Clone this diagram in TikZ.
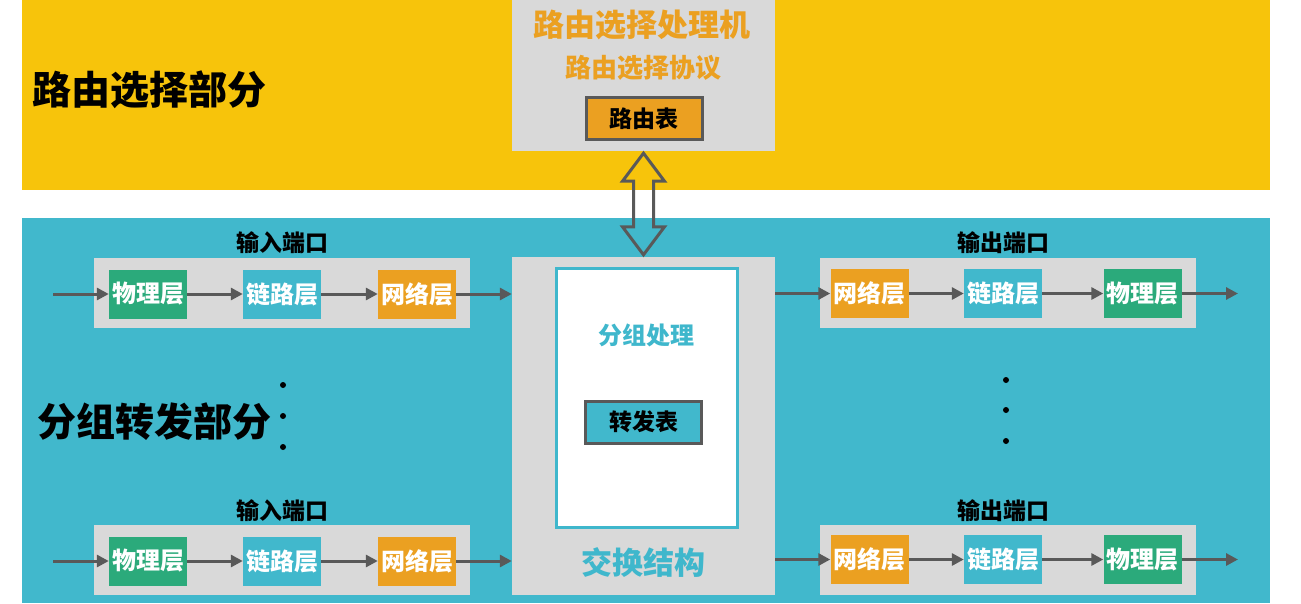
\documentclass[tikz,border=0pt]{standalone}
\usepackage{fontspec}
\setmainfont{Noto Sans CJK SC}
\usetikzlibrary{arrows.meta,calc}
\definecolor{ylw}{HTML}{F7C40B}
\definecolor{tealbg}{HTML}{41B8CC}
\definecolor{boxgray}{HTML}{D9D9D9}
\definecolor{grn}{HTML}{2BAA7B}
\definecolor{org}{HTML}{EBA021}
\definecolor{dgray}{HTML}{595959}
\definecolor{tealtx}{HTML}{3FB7CC}
\tikzset{
  band/.style={fill=#1, draw=none},
  portbox/.style={fill=boxgray, draw=none, minimum width=376pt, minimum height=70pt, inner sep=0pt},
  layer/.style={fill=#1, draw=none, text=white, font=\bfseries\fontsize{24}{26}\selectfont, minimum width=78pt, minimum height=49pt, inner sep=0pt},
  plabel/.style={font=\bfseries\fontsize{23}{25}\selectfont, text=black},
  flow/.style={draw=dgray, line width=3pt, -{Triangle[length=12pt,width=12pt]}},
  tablebox/.style={fill=#1, draw=dgray, line width=3pt, font=\bfseries\fontsize{23}{25}\selectfont, text=black, minimum width=116pt, minimum height=42pt, inner sep=0pt},
  header/.style={font=\bfseries\fontsize{39}{42}\selectfont, text=black},
  dotmark/.style={circle, fill=black, inner sep=0pt, minimum size=6pt},
  glowtext/.style={font=\bfseries\fontsize{#1}{#1}\selectfont},
}
\begin{document}
\begin{tikzpicture}[x=1pt,y=-1pt]
\useasboundingbox (0,0) rectangle (1301,603);
\fill[white] (0,0) rectangle (1301,603);
% bands
\fill[band=ylw] (22,0) rectangle (1270,190);
\fill[band=tealbg] (22,218) rectangle (1270,603);
% headers
\node[header] (hr) at (149,90) {路由选择部分};
\node[header] (hf) at (154,422) {分组转发部分};
% routing processor box
\node[fill=boxgray, minimum width=263pt, minimum height=151pt, inner sep=0pt] (rp) at (643.5,75.5) {};
\node[glowtext=31, text=org] (rpt) at (642,25) {路由选择处理机};
\node[glowtext=26, text=org] (rpp) at (643,68) {路由选择协议};
\node[tablebox=org] (rt) at (644,118.5) {路由表};
% switch fabric box
\node[fill=boxgray, minimum width=263pt, minimum height=338pt, inner sep=0pt] (sw) at (643.5,426) {};
\node[fill=white, draw=tealtx, line width=3pt, minimum width=181pt, minimum height=259pt, inner sep=0pt] (pp) at (647,398) {};
\node[glowtext=24, text=tealtx] (ppt) at (646,335) {分组处理};
\node[tablebox=tealbg] (ft) at (643.5,422) {转发表};
\node[glowtext=31, text=tealtx] (swt) at (643,563) {交换结构};
% double arrow between routing box and switch box
\coordinate (t) at (rp.south);
\coordinate (b) at (sw.north);
\draw[draw=dgray, line width=3pt, line join=miter]
  ($(t)+(0,2)$) -- ($(t)+(21,30)$) -- ($(t)+(10,30)$) -- ($(b)+(10,-30)$) -- ($(b)+(21,-30)$) -- ($(b)+(0,-2)$)
  -- ($(b)+(-21,-30)$) -- ($(b)+(-10,-30)$) -- ($(t)+(-10,30)$) -- ($(t)+(-21,30)$) -- cycle;
% input port top
\node[plabel] (inl1) at (282,243) {输入端口};
\node[portbox] (inb1) at (282,292.5) {};
\node[layer=grn] (ip1) at (148,294) {物理层};
\node[layer=tealbg] (il1) at (282,294) {链路层};
\node[layer=org] (in1) at (417,294) {网络层};
\coordinate (ins1) at (53,294);
\draw[flow] (ins1) -- (ip1.west);
\draw[flow] (ip1) -- (il1);
\draw[flow] (il1) -- (in1);
\draw[flow] (in1.east) -- (in1.east -| sw.west);
% input port bottom
\node[plabel] (inl2) at (282,511) {输入端口};
\node[portbox] (inb2) at (282,560) {};
\node[layer=grn] (ip2) at (148,561) {物理层};
\node[layer=tealbg] (il2) at (282,561) {链路层};
\node[layer=org] (in2) at (417,561) {网络层};
\coordinate (ins2) at (53,561);
\draw[flow] (ins2) -- (ip2.west);
\draw[flow] (ip2) -- (il2);
\draw[flow] (il2) -- (in2);
\draw[flow] (in2.east) -- (in2.east -| sw.west);
% output port top
\node[plabel] (outl1) at (1003,243) {输出端口};
\node[portbox] (outb1) at (1008,293) {};
\node[layer=org] (on1) at (869.5,293.5) {网络层};
\node[layer=tealbg] (ol1) at (1003,293.5) {链路层};
\node[layer=grn] (op1) at (1142.5,293.5) {物理层};
\coordinate (oe1) at (1238,293.5);
\draw[flow] (on1.west -| sw.east) -- (on1.west);
\draw[flow] (on1) -- (ol1);
\draw[flow] (ol1) -- (op1);
\draw[flow] (op1.east) -- (oe1);
% output port bottom
\node[plabel] (outl2) at (1003,511) {输出端口};
\node[portbox] (outb2) at (1008,560) {};
\node[layer=org] (on2) at (869.5,559.5) {网络层};
\node[layer=tealbg] (ol2) at (1003,559.5) {链路层};
\node[layer=grn] (op2) at (1142.5,559.5) {物理层};
\coordinate (oe2) at (1238,559.5);
\draw[flow] (on2.west -| sw.east) -- (on2.west);
\draw[flow] (on2) -- (ol2);
\draw[flow] (ol2) -- (op2);
\draw[flow] (op2.east) -- (oe2);
% ellipsis dots
\node[dotmark] (ld1) at (283,385) {};
\node[dotmark] (ld2) at (283,416) {};
\node[dotmark] (ld3) at (283,447) {};
\node[dotmark] (rd1) at (1006,380) {};
\node[dotmark] (rd2) at (1006,410) {};
\node[dotmark] (rd3) at (1006,441) {};
\end{tikzpicture}
\end{document}
